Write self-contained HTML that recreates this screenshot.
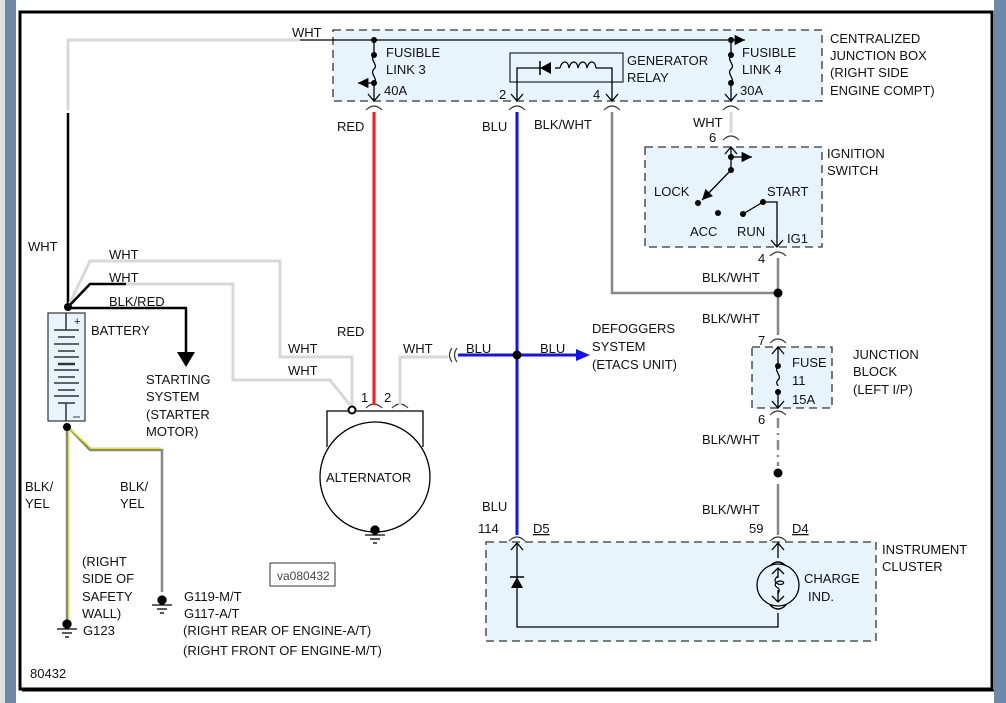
<!DOCTYPE html>
<html><head><meta charset="utf-8"><style>
html,body{margin:0;padding:0;background:#fff;}
svg{display:block;}
text{font-family:"Liberation Sans",sans-serif;font-size:13px;fill:#111;}
</style></head><body>
<svg width="1006" height="703" viewBox="0 0 1006 703" xmlns="http://www.w3.org/2000/svg">
<defs>
<marker id="ar" viewBox="0 0 10 10" refX="10" refY="5" markerWidth="8" markerHeight="8" orient="auto"><path d="M0,0 L10,5 L0,10 z" fill="#000"/></marker>
</defs>
<rect x="0" y="0" width="1006" height="703" fill="#fff"/>
<rect x="0" y="0" width="16" height="703" fill="#e0e0e0"/>
<rect x="5" y="0" width="11" height="703" fill="#6e88a8"/>
<rect x="994" y="0" width="12" height="703" fill="#6e88a8"/>
<rect x="20" y="12" width="972" height="677" fill="#fff" stroke="#000" stroke-width="3"/>
<line x1="22" y1="690.5" x2="994" y2="690.5" stroke="#000" stroke-width="2"/>

<g fill="#e8f4fc" stroke="#333" stroke-width="1.3" stroke-dasharray="8,5">
<rect x="333" y="30" width="489" height="71"/>
<rect x="645" y="147" width="177" height="100"/>
<rect x="752" y="347" width="80" height="61"/>
<rect x="486" y="542" width="390" height="99"/>
</g>
<rect x="510" y="53" width="113" height="29" fill="#e8f4fc" stroke="#333" stroke-width="1.3"/>

<polyline points="68,110 68,40 300,40" fill="none" stroke="#d8d8d8" stroke-width="3"/>
<line x1="300" y1="40" x2="745" y2="40" stroke="#000" stroke-width="1.3" marker-end="url(#ar)"/>
<g stroke="#000" stroke-width="1.3" fill="none">
<line x1="374" y1="40" x2="374" y2="55"/>
<path d="M374,55 c-5,5 5,10 0,14 c-5,5 5,10 0,14"/>
<line x1="374" y1="83" x2="374" y2="101"/>
<path d="M368,94 L374,101 L380,94"/>
<line x1="374" y1="83" x2="358" y2="83" marker-end="url(#ar)"/>
<line x1="731" y1="40" x2="731" y2="55"/>
<path d="M731,55 c-5,5 5,10 0,14 c-5,5 5,10 0,14"/>
<line x1="731" y1="83" x2="731" y2="101"/>
<path d="M725,94 L731,101 L737,94"/>
<polyline points="517,101 517,68 540,68"/>
<polyline points="555,68 560,68"/>
<path d="M560,68 c2,-8 8,-8 9,0 c2,-8 8,-8 9,0 c2,-8 8,-8 9,0 c2,-8 8,-8 9,0"/>
<polyline points="596,68 612,68 612,101"/>
<path d="M511,94 L517,101 L523,94"/>
<path d="M606,94 L612,101 L618,94"/>
</g>
<path d="M540,68 L551,62 L551,74 z" fill="#000"/><line x1="540" y1="61" x2="540" y2="75" stroke="#000" stroke-width="1.5"/>
<g fill="#000">
<circle cx="374" cy="40" r="3"/><circle cx="374" cy="55" r="3"/><circle cx="374" cy="83" r="3"/>
<circle cx="731" cy="40" r="3"/><circle cx="731" cy="55" r="3"/><circle cx="731" cy="83" r="3"/>
</g>
<g stroke="#333" stroke-width="1.2" fill="none">
<path d="M366,110 q8,-8 16,0"/><path d="M509,110 q8,-8 16,0"/><path d="M604,110 q8,-8 16,0"/><path d="M723,110 q8,-8 16,0"/>
<path d="M723,140 q8,-8 16,0"/>
<path d="M770,256 q8,-8 16,0"/>
<path d="M770,343 q8,-8 16,0"/>
<path d="M770,415 q8,-8 16,0"/>
<path d="M509,541 q8,-8 16,0"/><path d="M770,541 q8,-8 16,0"/>
<path d="M366,408 q8,-8 16,0"/><path d="M392,408 q8,-8 16,0"/>
</g>

<line x1="374" y1="112" x2="374" y2="405" stroke="#ff1a1a" stroke-width="3"/>
<line x1="517" y1="112" x2="517" y2="535" stroke="#1010ff" stroke-width="3"/>
<line x1="458" y1="355" x2="578" y2="355" stroke="#1010ff" stroke-width="3"/>
<path d="M576,349 L590,355 L576,361 z" fill="#1010ff"/>
<circle cx="517" cy="355" r="4.5" fill="#000"/>
<path d="M452,348 q-5,7 0,14 M457,348 q-5,7 0,14" stroke="#333" stroke-width="1.2" fill="none"/>
<polyline points="612,112 612,293 778,293" fill="none" stroke="#888" stroke-width="2.5"/>
<line x1="731" y1="112" x2="731" y2="133" stroke="#d8d8d8" stroke-width="3"/>
<line x1="778" y1="258" x2="778" y2="335" stroke="#888" stroke-width="2.5"/>
<line x1="778" y1="418" x2="778" y2="466" stroke="#888" stroke-width="2.5" stroke-dasharray="10,5,2,5"/>
<line x1="778" y1="484" x2="778" y2="535" stroke="#888" stroke-width="2.5"/>
<circle cx="778" cy="293" r="4.5" fill="#000"/>
<circle cx="778" cy="473" r="4.5" fill="#000"/>

<g stroke="#000" stroke-width="1.3" fill="none">
<line x1="731" y1="147" x2="731" y2="170"/>
<path d="M725,154 L731,147 L737,154"/>
<line x1="731" y1="157" x2="752" y2="157" marker-end="url(#ar)"/>
<line x1="731" y1="170" x2="702" y2="200" marker-end="url(#ar)"/>
<line x1="743" y1="214" x2="763" y2="202"/>
<polyline points="763,202 777,202 777,247"/>
<path d="M771,240 L777,247 L783,240"/>
</g>
<g fill="#000"><circle cx="731" cy="157" r="3"/><circle cx="731" cy="170" r="3"/><circle cx="698" cy="203" r="3"/><circle cx="718" cy="213" r="3"/><circle cx="743" cy="214" r="3"/><circle cx="763" cy="202" r="3"/></g>

<g stroke="#000" stroke-width="1.3" fill="none">
<line x1="778" y1="347" x2="778" y2="366"/>
<path d="M772,354 L778,347 L784,354"/>
<path d="M778,366 c-5,5 5,10 0,14 c-3,3 0,5 0,6"/>
<line x1="778" y1="392" x2="778" y2="408"/>
<path d="M772,401 L778,408 L784,401"/>
</g>
<circle cx="778" cy="366" r="3"/><circle cx="778" cy="392" r="3"/>

<line x1="68" y1="113" x2="68" y2="307" stroke="#000" stroke-width="2.5"/>
<polyline points="68,307 90,261 280,261 280,357 352,357 352,408" fill="none" stroke="#d8d8d8" stroke-width="3"/>
<polyline points="126,284 233,284 233,380 330,380 350,405" fill="none" stroke="#d8d8d8" stroke-width="3"/>
<polyline points="68,307 90,284 126,284" fill="none" stroke="#000" stroke-width="2.5"/>
<polyline points="68,308 186,308 186,352" fill="none" stroke="#000" stroke-width="2.5"/>
<path d="M177,352 L195,352 L186,367 z" fill="#000"/>
<circle cx="68" cy="307" r="4" fill="#000"/>
<rect x="48" y="313" width="37" height="108" fill="#e8f4fc" stroke="#333" stroke-width="1.2"/>
<g stroke="#333" stroke-width="1.5">
<line x1="66" y1="313" x2="66" y2="330"/>
<line x1="54" y1="330" x2="79" y2="330"/><line x1="58" y1="337" x2="75" y2="337"/>
<line x1="54" y1="344" x2="79" y2="344"/><line x1="58" y1="351" x2="75" y2="351"/>
<line x1="54" y1="357" x2="79" y2="357"/><line x1="58" y1="364" x2="75" y2="364" stroke-width="2.5"/>
<line x1="54" y1="370" x2="79" y2="370"/><line x1="58" y1="377" x2="75" y2="377"/>
<line x1="54" y1="383" x2="79" y2="383"/><line x1="58" y1="390" x2="75" y2="390"/>
<line x1="54" y1="396" x2="79" y2="396"/><line x1="58" y1="403" x2="75" y2="403"/>
<line x1="66" y1="403" x2="66" y2="421"/>
</g>
<text x="74" y="325" style="font-size:11px">+</text>
<line x1="73" y1="417" x2="80" y2="417" stroke="#333"/>
<line x1="67" y1="427" x2="67" y2="620" stroke="#888" stroke-width="2.5"/>
<line x1="69" y1="427" x2="69" y2="620" stroke="#f0f000" stroke-width="1"/>
<polyline points="68,427 90,450 162,450 162,592" fill="none" stroke="#888" stroke-width="2.5"/>
<polyline points="69,428 91,448 161,448" fill="none" stroke="#f0f000" stroke-width="1.2"/>
<circle cx="67" cy="427" r="4" fill="#000"/>
<g fill="#000" stroke="#000" stroke-width="1.3">
<circle cx="67" cy="624" r="4"/><line x1="57" y1="629" x2="77" y2="629"/><line x1="62" y1="633" x2="72" y2="633"/><line x1="65" y1="637" x2="69" y2="637"/>
<circle cx="162" cy="600" r="4"/><line x1="152" y1="605" x2="172" y2="605"/><line x1="157" y1="609" x2="167" y2="609"/><line x1="160" y1="613" x2="164" y2="613"/>
<circle cx="375" cy="530" r="4"/><line x1="365" y1="535" x2="385" y2="535"/><line x1="370" y1="539" x2="380" y2="539"/><line x1="373" y1="543" x2="377" y2="543"/>
</g>
<polyline points="327,447 327,411 423,411 423,447" fill="none" stroke="#000" stroke-width="1.3"/>
<circle cx="375" cy="477" r="55" fill="none" stroke="#000" stroke-width="1.3"/>
<circle cx="352" cy="410" r="3.5" fill="#fff" stroke="#000" stroke-width="2"/>
<polyline points="400,405 400,357 448,357" fill="none" stroke="#d8d8d8" stroke-width="3"/>
<g stroke="#000" stroke-width="1.3" fill="none">
<polyline points="517,543 517,627 778,627 778,613"/>
<path d="M511,550 L517,543 L523,550"/>
<line x1="778" y1="543" x2="778" y2="558"/>
<path d="M772,550 L778,543 L784,550"/>
<path d="M770,566 q8,-8 16,0"/><path d="M770,605 q8,8 16,0"/>
<circle cx="778" cy="585" r="21"/>
<line x1="778" y1="568" x2="778" y2="602"/>
<path d="M772,574 L778,568 L784,574"/><path d="M772,596 L778,602 L784,596"/>
</g>
<path d="M511,588 L523,588 L517,577 z" fill="#000"/><line x1="510" y1="577" x2="524" y2="577" stroke="#000" stroke-width="1.5"/>
<rect x="772" y="578" width="10" height="12" fill="#e8f4fc"/>
<path d="M778,576 c-4,3 -4,6 0,8 c6,2 8,-3 2,-3 c-6,1 -6,5 -2,7 c3,2 0,5 0,6" stroke="#000" fill="none" stroke-width="1.2"/>

<rect x="270" y="563" width="65" height="23" fill="#fff" stroke="#333"/>
<text x="277" y="580" style="font-size:12px;fill:#444">va080432</text>

<g>
<text x="292" y="37">WHT</text>
<text x="386" y="57">FUSIBLE</text><text x="386" y="74">LINK 3</text><text x="384" y="95">40A</text>
<text x="627" y="65">GENERATOR</text><text x="627" y="82">RELAY</text>
<text x="742" y="57">FUSIBLE</text><text x="742" y="74">LINK 4</text><text x="740" y="95">30A</text>
<text x="830" y="43">CENTRALIZED</text><text x="830" y="60">JUNCTION BOX</text><text x="830" y="77">(RIGHT SIDE</text><text x="830" y="95">ENGINE COMPT)</text>
<text x="499" y="99">2</text><text x="593" y="99">4</text>
<text x="337" y="131">RED</text><text x="482" y="131">BLU</text><text x="534" y="129">BLK/WHT</text>
<text x="693" y="127">WHT</text><text x="709" y="142">6</text>
<text x="827" y="158">IGNITION</text><text x="827" y="175">SWITCH</text>
<text x="654" y="196">LOCK</text><text x="767" y="196">START</text>
<text x="690" y="236">ACC</text><text x="737" y="236">RUN</text><text x="787" y="243">IG1</text>
<text x="758" y="263">4</text>
<text x="702" y="282">BLK/WHT</text><text x="702" y="323">BLK/WHT</text>
<text x="758" y="345">7</text>
<text x="792" y="367">FUSE</text><text x="792" y="385">11</text><text x="792" y="404">15A</text>
<text x="853" y="359">JUNCTION</text><text x="853" y="376">BLOCK</text><text x="853" y="394">(LEFT I/P)</text>
<text x="758" y="424">6</text>
<text x="702" y="444">BLK/WHT</text><text x="702" y="514">BLK/WHT</text>
<text x="749" y="533">59</text><text x="792" y="533" style="text-decoration:underline">D4</text>
<text x="482" y="511">BLU</text><text x="478" y="533">114</text><text x="533" y="533" style="text-decoration:underline">D5</text>
<text x="882" y="554">INSTRUMENT</text><text x="882" y="571">CLUSTER</text>
<text x="804" y="583">CHARGE</text><text x="808" y="601">IND.</text>
<text x="592" y="333">DEFOGGERS</text><text x="592" y="351">SYSTEM</text><text x="592" y="369">(ETACS UNIT)</text>
<text x="466" y="353">BLU</text><text x="540" y="353">BLU</text>
<text x="403" y="353">WHT</text>
<text x="337" y="336">RED</text>
<text x="288" y="353">WHT</text><text x="288" y="375">WHT</text>
<text x="361" y="402">1</text><text x="384" y="402">2</text>
<text x="326" y="482">ALTERNATOR</text>
<text x="28" y="251">WHT</text>
<text x="109" y="259">WHT</text><text x="109" y="282">WHT</text><text x="109" y="306">BLK/RED</text>
<text x="91" y="335">BATTERY</text>
<text x="146" y="384">STARTING</text><text x="146" y="401">SYSTEM</text><text x="146" y="419">(STARTER</text><text x="146" y="436">MOTOR)</text>
<text x="25" y="491">BLK/</text><text x="25" y="508">YEL</text>
<text x="120" y="491">BLK/</text><text x="120" y="508">YEL</text>
<text x="82" y="566">(RIGHT</text><text x="82" y="583">SIDE OF</text><text x="82" y="601">SAFETY</text><text x="82" y="618">WALL)</text>
<text x="83" y="635">G123</text>
<text x="184" y="601">G119-M/T</text><text x="184" y="618">G117-A/T</text>
<text x="183" y="635">(RIGHT REAR OF ENGINE-A/T)</text><text x="183" y="655">(RIGHT FRONT OF ENGINE-M/T)</text>
<text x="30" y="678">80432</text>
</g>
</svg>
</body></html>
